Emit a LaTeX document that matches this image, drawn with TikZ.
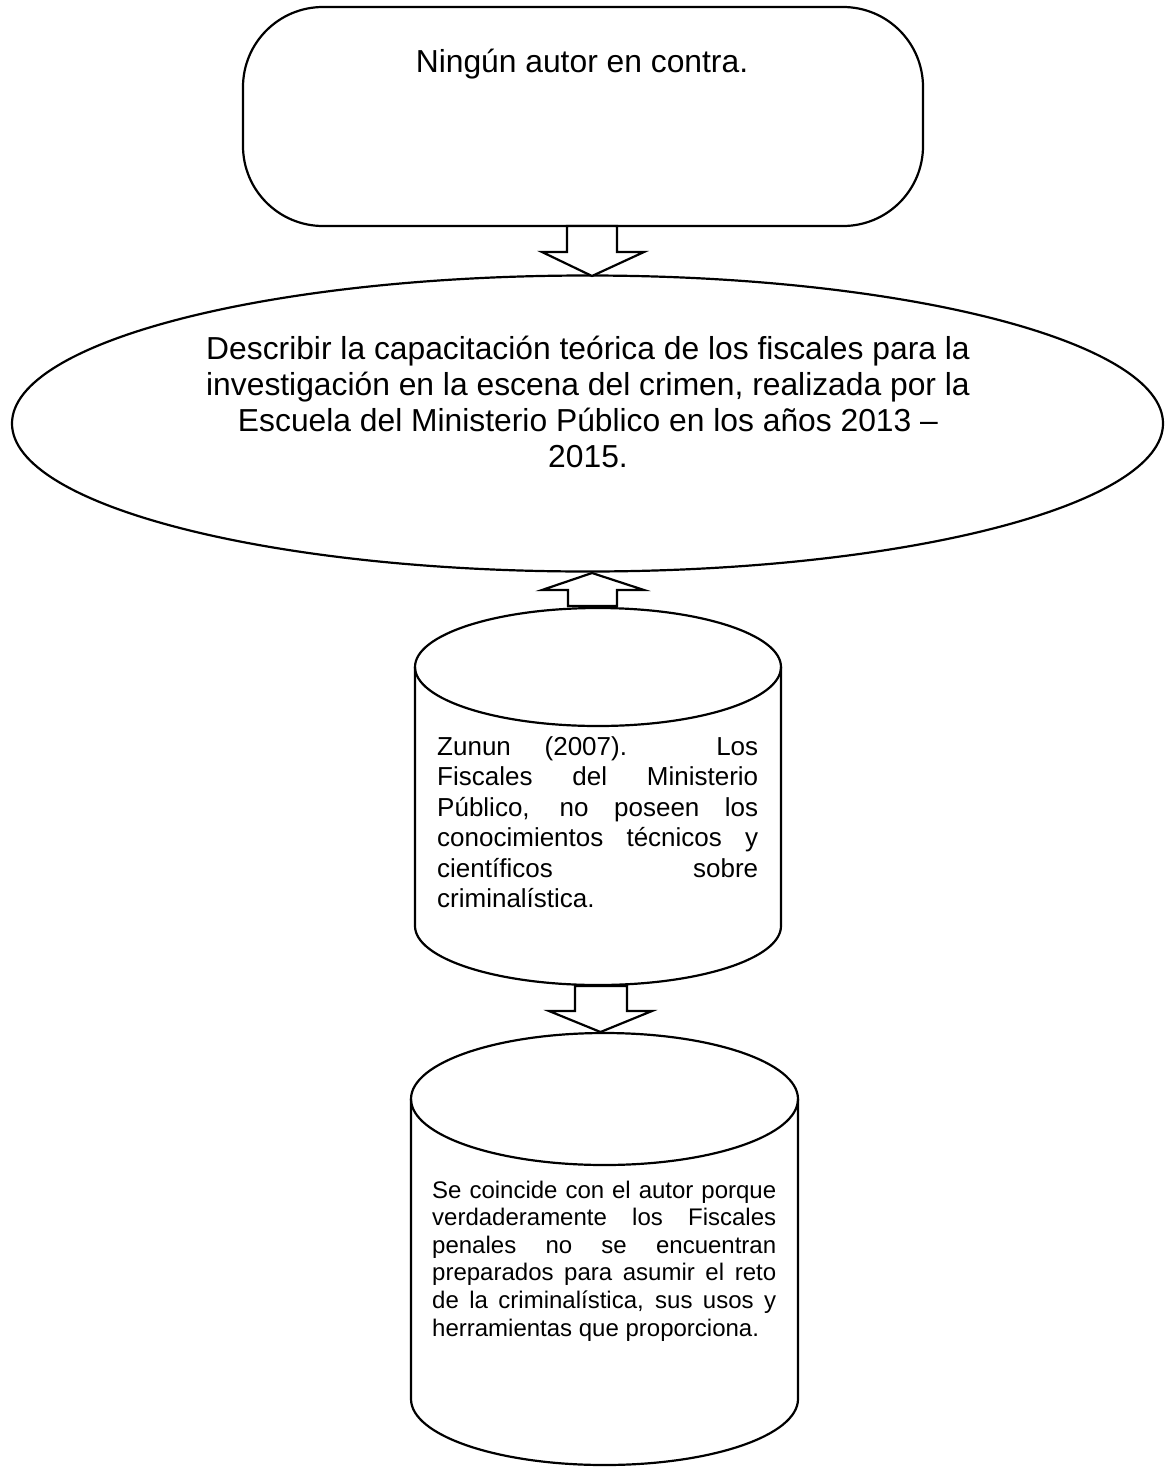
\documentclass[tikz,border=0pt]{standalone}
\usepackage{fontspec}
\setmainfont{Liberation Sans}
\usetikzlibrary{shapes.geometric}
\newcommand\ftA{\fontsize{31.8}{36}\selectfont}
\newcommand\ftB{\fontsize{26}{30.5}\selectfont}
\newcommand\ftC{\fontsize{24}{27.6}\selectfont}
\begin{document}
\begin{tikzpicture}[x=1pt,y=-1pt,
  shapeline/.style={draw=black, line width=2.2pt},
  blockarrow/.style={draw=black, fill=white, line width=2.2pt, line join=miter},
  jline/.style={anchor=base west, inner sep=0pt},
  cline/.style={anchor=base, inner sep=0pt}]
\useasboundingbox (0,0) rectangle (1165,1467);
\fill[white] (0,0) rectangle (1165,1467);

% top rounded box
\node[shapeline, rectangle, rounded corners=80pt, minimum width=680pt, minimum height=219pt, inner sep=0pt] (top) at (583,116.5) {};
\node[cline, font=\ftA] (toptext) at (582,72) {Ningún autor en contra.};

% ellipse
\node[shapeline, ellipse, minimum width=1151pt, minimum height=296pt, inner sep=0pt] (goal) at (587.5,423.5) {};
\node[cline, font=\ftA] (g1) at (588,359) {Describir la capacitación teórica de los fiscales para la};
\node[cline, font=\ftA] (g2) at (588,395) {investigación en la escena del crimen, realizada por la};
\node[cline, font=\ftA] (g3) at (588,431) {Escuela del Ministerio Público en los años 2013 –};
\node[cline, font=\ftA] (g4) at (588,467) {2015.};

% cylinder 1
\draw[shapeline] (415,667) -- (415,926) arc[start angle=180, end angle=0, x radius=183, y radius=59] -- (781,667);
\draw[shapeline] (598,667) ellipse [x radius=183, y radius=59];
\node[jline, font=\ftB] (c1a) at (437,755) {\makebox[321pt][s]{Zunun (2007). Los}};
\node[jline, font=\ftB] (c1b) at (437,785.5) {\makebox[321pt][s]{Fiscales del Ministerio}};
\node[jline, font=\ftB] (c1c) at (437,816) {\makebox[321pt][s]{Público, no poseen los}};
\node[jline, font=\ftB] (c1d) at (437,846.5) {\makebox[321pt][s]{conocimientos técnicos y}};
\node[jline, font=\ftB] (c1e) at (437,877) {\makebox[321pt][s]{científicos sobre}};
\node[jline, font=\ftB] (c1f) at (437,907.5) {criminalística.};

% cylinder 2
\draw[shapeline] (411,1099) -- (411,1399) arc[start angle=180, end angle=0, x radius=193.5, y radius=66] -- (798,1099);
\draw[shapeline] (604.5,1099) ellipse [x radius=193.5, y radius=66];
\node[jline, font=\ftC] (c2a) at (432,1198) {\makebox[344pt][s]{Se coincide con el autor porque}};
\node[jline, font=\ftC] (c2b) at (432,1225.6) {\makebox[344pt][s]{verdaderamente los Fiscales}};
\node[jline, font=\ftC] (c2c) at (432,1253.2) {\makebox[344pt][s]{penales no se encuentran}};
\node[jline, font=\ftC] (c2d) at (432,1280.8) {\makebox[344pt][s]{preparados para asumir el reto}};
\node[jline, font=\ftC] (c2e) at (432,1308.4) {\makebox[344pt][s]{de la criminalística, sus usos y}};
\node[jline, font=\ftC] (c2f) at (432,1336) {herramientas que proporciona.};

% block arrows
\draw[blockarrow] (567,226) -- (567,252) -- (542,252) -- (592,276) -- (644,252) -- (617,252) -- (617,226) -- cycle;
\draw[blockarrow] (568,606) -- (568,590) -- (542,590) -- (592,573) -- (644,590) -- (617,590) -- (617,606) -- cycle;
\draw[blockarrow] (575,986) -- (575,1011) -- (549,1011) -- (600.5,1032) -- (652,1011) -- (627,1011) -- (627,986) -- cycle;
\end{tikzpicture}
\end{document}
